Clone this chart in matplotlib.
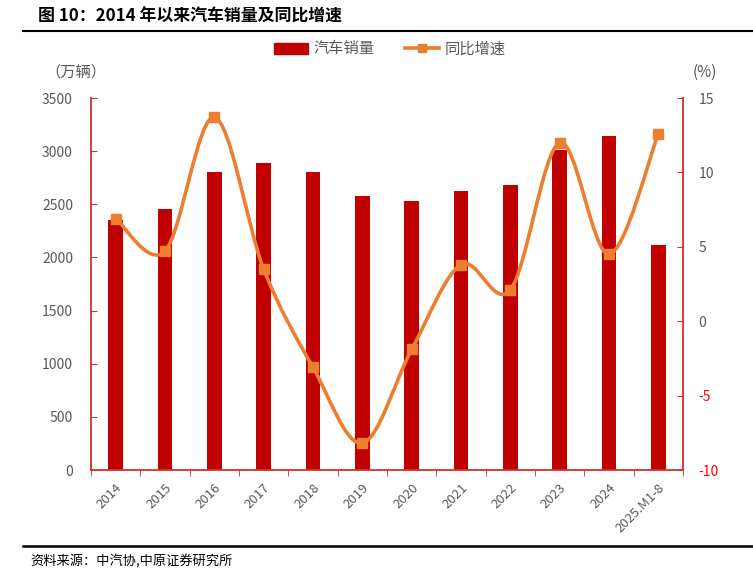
import numpy as np
import matplotlib.pyplot as plt
from matplotlib.path import Path
from matplotlib.patches import PathPatch
from matplotlib.lines import Line2D
from matplotlib.patches import Patch

plt.rcParams['font.family'] = ['Noto Sans CJK SC', 'DejaVu Sans']
plt.rcParams['axes.unicode_minus'] = False

years = ['2014', '2015', '2016', '2017', '2018', '2019', '2020', '2021',
         '2022', '2023', '2024', '2025.M1-8']
sales = [2349, 2460, 2803, 2888, 2808, 2576, 2531, 2627, 2686, 3009, 3143, 2113]
growth = [6.9, 4.7, 13.7, 3.5, -3.1, -8.2, -1.9, 3.8, 2.1, 12.0, 4.5, 12.6]

bar_c = '#C00000'
line_c = '#ED7D31'
grey = '#595959'

fig = plt.figure(figsize=(7.53, 5.74), dpi=100)
ax1 = fig.add_axes([91 / 753, 1 - 470 / 574, 592 / 753, 372 / 574])
ax2 = ax1.twinx()

x = np.arange(len(years))
ax1.bar(x, sales, width=0.3, color=bar_c, zorder=2)
ax1.set_xlim(-0.5, len(years) - 0.5)
ax1.set_ylim(0, 3500)
ax1.set_yticks(np.arange(0, 3501, 500))
ax2.set_ylim(-10, 15)
ax2.set_yticks(np.arange(-10, 16, 5))

# smooth line like excel (catmull-rom as bezier path)
pts = np.column_stack([x, growth]).astype(float)
verts = [pts[0]]
codes = [Path.MOVETO]
for i in range(len(pts) - 1):
    p0 = pts[i - 1] if i > 0 else pts[i]
    p1 = pts[i]
    p2 = pts[i + 1]
    p3 = pts[i + 2] if i + 2 < len(pts) else pts[i + 1]
    c1 = p1 + (p2 - p0) / 6
    c2 = p2 - (p3 - p1) / 6
    verts += [c1, c2, p2]
    codes += [Path.CURVE4] * 3
ax2.add_patch(PathPatch(Path(verts, codes), fill=False, edgecolor=line_c,
                        lw=2.6, zorder=3))
ax2.plot(x, growth, linestyle='none', marker='s', ms=7, color=line_c, zorder=4)

for ax in (ax1, ax2):
    for s in ax.spines.values():
        s.set_visible(False)
ax1.spines['left'].set_visible(True)
ax1.spines['bottom'].set_visible(True)
ax2.spines['right'].set_visible(True)
for s in (ax1.spines['left'], ax1.spines['bottom'], ax2.spines['right']):
    s.set_color('#D03030')
    s.set_linewidth(1.3)

ax1.tick_params(axis='y', direction='in', length=4, color='#D03030',
                labelcolor=grey, labelsize=10, pad=13)
ax2.tick_params(axis='y', direction='in', length=4, color='#D03030',
                labelcolor=grey, labelsize=10, pad=11)
for lab, v in zip(ax2.get_yticklabels(), np.arange(-10, 16, 5)):
    if v < 0:
        lab.set_color('#FF0000')

ax1.set_xticks(x)
ax1.set_xticklabels(years, rotation=45, ha='right', rotation_mode='anchor',
                    color=grey, fontsize=9.5)
ax1.tick_params(axis='x', length=0, pad=8)
ax1.set_xticks(np.arange(-0.5, len(years)), minor=True)
ax1.tick_params(axis='x', which='minor', direction='out', length=4,
                color='#D03030')

fig.text(45 / 753, 1 - 72 / 574, '（万辆）', fontsize=11, color=grey,
         va='center', ha='left')
fig.text(705 / 753, 1 - 72 / 574, '(%)', fontsize=11, color=grey,
         va='center', ha='center')

handles = [Patch(color=bar_c, label='汽车销量'),
           Line2D([0], [0], color=line_c, lw=2.6, marker='s', ms=6,
                  label='同比增速')]
fig.legend(handles=handles, loc='center', bbox_to_anchor=(390 / 753, 1 - 49 / 574),
           ncol=2, frameon=False, fontsize=11, labelcolor=grey,
           handlelength=2.2, columnspacing=2.0, handletextpad=0.4)

fig.text(38 / 753, 1 - 17 / 574, '图 10：2014 年以来汽车销量及同比增速',
         fontsize=12.2, fontweight='bold', va='center', ha='left')
fig.add_artist(Line2D([23 / 753, 1], [1 - 31 / 574] * 2, color='black', lw=1.5))
fig.add_artist(Line2D([23 / 753, 1], [1 - 546 / 574] * 2, color='black', lw=1.8))
fig.text(30 / 753, 1 - 561 / 574, '资料来源：中汽协,中原证券研究所',
         fontsize=9.5, va='center', ha='left')

fig.savefig('out.png', dpi=100)
